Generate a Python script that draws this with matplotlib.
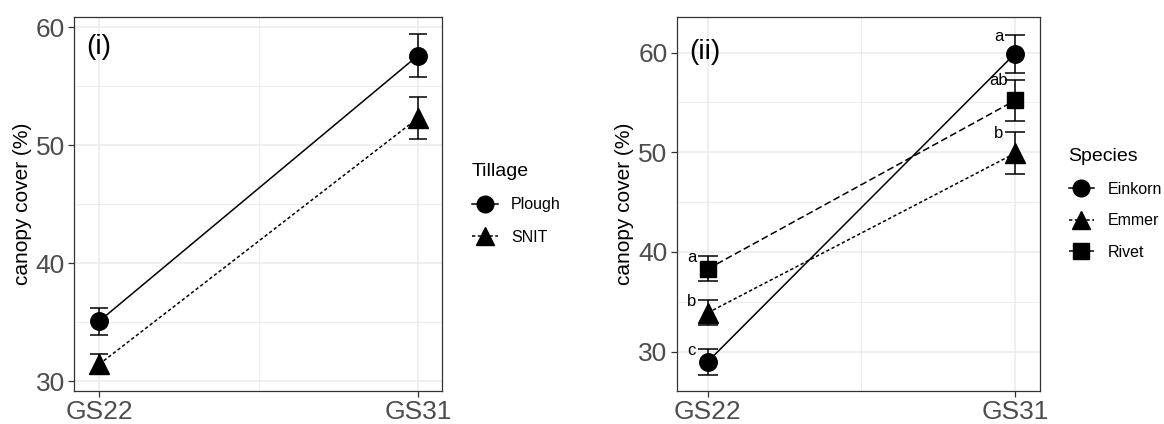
import numpy as np
import matplotlib
matplotlib.use("Agg")
import matplotlib.pyplot as plt
from matplotlib.lines import Line2D

# growth stages on the x axis
stages = ["GS22", "GS31"]

# panel (i): tillage means and error half-widths
plough_mean = [35.1, 57.6]
plough_err = [1.15, 1.8]
snit_mean = [31.45, 52.3]
snit_err = [0.85, 1.8]

# panel (ii): species means, error half-widths and letters
einkorn_mean = [29.0, 59.9]
einkorn_err = [1.3, 1.9]
einkorn_letters = ["c", "a"]
emmer_mean = [33.9, 49.9]
emmer_err = [1.25, 2.1]
emmer_letters = ["b", "b"]
rivet_mean = [38.3, 55.2]
rivet_err = [1.25, 2.1]
rivet_letters = ["a", "ab"]

plt.rcParams["font.family"] = ["Liberation Sans", "DejaVu Sans"]

TICK_GREY = "#4D4D4D"
GRID = "#EBEBEB"
DOTTED = (0, (2.2, 1.6))
DASHED = (0, (4.5, 2.2))

fig = plt.figure(figsize=(11.64, 4.24), dpi=100)
ax1 = fig.add_axes([0.0636, 0.0785, 0.3162, 0.8814])
ax2 = fig.add_axes([0.5812, 0.0785, 0.3119, 0.8814])


def style_axes(ax, ylim, xlim):
    ax.set_xlim(*xlim)
    ax.set_ylim(*ylim)
    ax.set_yticks([30, 40, 50, 60])
    ax.set_yticks([35, 45, 55], minor=True)
    ax.set_xticks([1, 2])
    ax.set_xticks([1.5], minor=True)
    ax.set_xticklabels(stages)
    ax.grid(True, which="major", color=GRID, linewidth=1.1)
    ax.grid(True, which="minor", color=GRID, linewidth=0.6)
    ax.set_axisbelow(True)
    for sp in ax.spines.values():
        sp.set_color("#333333")
        sp.set_linewidth(0.9)
    ax.tick_params(axis="both", which="major", labelsize=19, labelcolor=TICK_GREY,
                   color="#333333", length=4, width=0.9, pad=2.5)
    ax.tick_params(axis="both", which="minor", length=0)
    ax.set_ylabel("canopy cover (%)", fontsize=15, color="black", labelpad=3)


def series(ax, mean, err, marker, ls, ms, cap):
    x = np.array([1, 2])
    ax.plot(x, mean, color="black", linestyle=ls, linewidth=1.1, zorder=2)
    ax.errorbar(x, mean, yerr=err, fmt="none", ecolor="black", elinewidth=1.1,
                capsize=cap, capthick=1.1, zorder=3)
    ax.plot(x, mean, linestyle="none", marker=marker, markersize=ms,
            color="black", zorder=4)


# panel (i)
style_axes(ax1, (29.21, 60.87), (0.921, 2.076))
series(ax1, plough_mean, plough_err, "o", "-", 12.6, 6.5)
series(ax1, snit_mean, snit_err, "^", DOTTED, 14.5, 6.5)
ax1.text(0.033, 0.955, "(i)", transform=ax1.transAxes, fontsize=20,
         ha="left", va="top")

h1 = [Line2D([], [], color="black", linestyle="-", marker="o", markersize=12, linewidth=1.1),
      Line2D([], [], color="black", linestyle=DOTTED, marker="^", markersize=13, linewidth=1.1)]
fig.legend(h1, ["Plough", "SNIT"], title="Tillage", loc="upper left",
           bbox_to_anchor=(0.4055, 0.616), frameon=False, fontsize=11.5,
           title_fontsize=14, handlelength=1.6, handletextpad=0.85,
           labelspacing=1.1, borderpad=0, borderaxespad=0, alignment="left")

# panel (ii)
style_axes(ax2, (26.08, 63.57), (0.898, 2.08))
series(ax2, einkorn_mean, einkorn_err, "o", "-", 12.6, 7.2)
series(ax2, emmer_mean, emmer_err, "^", DOTTED, 14.5, 7.2)
series(ax2, rivet_mean, rivet_err, "s", DASHED, 12, 7.2)
ax2.text(0.036, 0.94, "(ii)", transform=ax2.transAxes, fontsize=20,
         ha="left", va="top")

for mean, err, letters in [(einkorn_mean, einkorn_err, einkorn_letters),
                           (emmer_mean, emmer_err, emmer_letters),
                           (rivet_mean, rivet_err, rivet_letters)]:
    for i in range(2):
        ax2.text(1 + i - 0.052, mean[i] + err[i] - 0.15, letters[i], fontsize=12,
                 ha="center", va="center")

h2 = [Line2D([], [], color="black", linestyle="-", marker="o", markersize=12, linewidth=1.1),
      Line2D([], [], color="black", linestyle=DOTTED, marker="^", markersize=13, linewidth=1.1),
      Line2D([], [], color="black", linestyle=DASHED, marker="s", markersize=11, linewidth=1.1)]
fig.legend(h2, ["Einkorn", "Emmer", "Rivet"], title="Species", loc="upper left",
           bbox_to_anchor=(0.918, 0.650), frameon=False, fontsize=11.5,
           title_fontsize=14, handlelength=1.6, handletextpad=0.85,
           labelspacing=1.03, borderpad=0, borderaxespad=0, alignment="left")

fig.savefig("out.png", dpi=100)
